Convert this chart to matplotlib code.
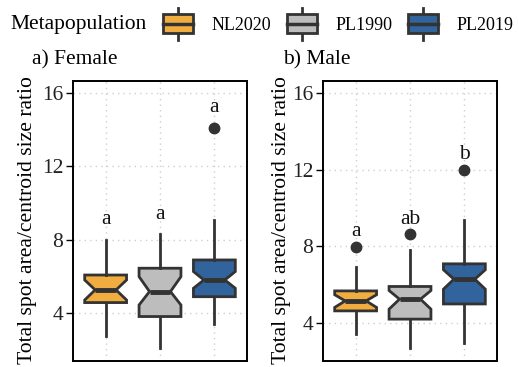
import matplotlib
matplotlib.use("Agg")
import matplotlib.pyplot as plt
from matplotlib.patches import Rectangle, Patch
from matplotlib.lines import Line2D
from matplotlib.legend_handler import HandlerBase

plt.rcParams['font.family'] = ['Liberation Serif', 'DejaVu Serif']

groups = ['NL2020', 'PL1990', 'PL2019']
colors = ['#F2AD40', '#BDBDBD', '#31639C']
edge = '#333333'

# box summaries: whislo, q1, med, q3, whishi, notch lo, notch hi
female_stats = [
    [2.76, 4.58, 5.27, 6.08, 8.00, 4.72, 5.81],
    [2.10, 3.82, 5.18, 6.45, 8.30, 4.45, 5.99],
    [3.40, 4.90, 5.81, 6.90, 9.08, 5.36, 6.27],
]
female_out = [[], [], [14.1]]
female_letters = ['a', 'a', 'a']
female_letter_y = [8.86, 9.12, 14.94]

male_stats = [
    [3.44, 4.64, 5.16, 5.68, 6.90, 4.82, 5.48],
    [2.70, 4.21, 5.25, 5.91, 7.79, 4.73, 5.70],
    [2.96, 5.00, 6.29, 7.09, 9.39, 5.77, 6.78],
]
male_out = [[7.96], [8.64], [12.0]]
male_letters = ['a', 'ab', 'b']
male_letter_y = [8.52, 9.18, 12.57]


def to_bxp(stats, outs):
    keys = ['whislo', 'q1', 'med', 'q3', 'whishi', 'cilo', 'cihi']
    res = []
    for s, o in zip(stats, outs):
        d = dict(zip(keys, s))
        d['fliers'] = o
        res.append(d)
    return res


def panel(ax, stats, outs, letters, letter_y, ylim, label_x):
    b = ax.bxp(to_bxp(stats, outs), positions=[1, 2, 3], widths=0.77,
               shownotches=True, showcaps=False, patch_artist=True,
               boxprops=dict(edgecolor=edge, linewidth=2),
               whiskerprops=dict(color=edge, linewidth=2),
               medianprops=dict(color=edge, linewidth=3.5),
               flierprops=dict(marker='o', markerfacecolor=edge,
                               markeredgecolor=edge, markersize=7.5))
    for patch, c in zip(b['boxes'], colors):
        patch.set_facecolor(c)
    for i, (t, y) in enumerate(zip(letters, letter_y)):
        ax.text(i + 1, y, t, ha='center', va='baseline', fontsize=15.5,
                color='#111111')
    ax.set_xlim(0.4, 3.6)
    ax.set_ylim(*ylim)
    ax.set_yticks([4, 8, 12, 16])
    ax.set_xticks([1, 2, 3])
    ax.grid(True, color='#cfcfcf', linestyle=(0, (1, 3)), linewidth=1)
    ax.set_axisbelow(True)
    ax.tick_params(axis='x', length=0, labelbottom=False)
    ax.tick_params(axis='y', length=5, width=1, labelsize=15.5,
                   labelcolor='#222222', pad=2)
    for sp in ax.spines.values():
        sp.set_linewidth(1.4)
        sp.set_color('black')
    ax.set_ylabel('Total spot area/centroid size ratio', fontsize=15.6)
    ax.yaxis.set_label_coords(label_x, 0.505)


class BoxKey(HandlerBase):
    def create_artists(self, legend, orig_handle, xdescent, ydescent,
                       width, height, fontsize, trans):
        cy = height / 2 - ydescent
        bh = fontsize * 1.05
        x0 = -xdescent
        cx = x0 + width / 2
        stub = fontsize * 0.38
        w1 = Line2D([cx, cx], [cy + bh / 2, cy + bh / 2 + stub], color=edge,
                    lw=2, transform=trans)
        w2 = Line2D([cx, cx], [cy - bh / 2, cy - bh / 2 - stub], color=edge,
                    lw=2, transform=trans)
        r = Rectangle((x0, cy - bh / 2), width, bh,
                      facecolor=orig_handle.get_facecolor(), edgecolor=edge,
                      lw=2, transform=trans)
        m = Line2D([x0, x0 + width], [cy, cy], color=edge, lw=2.5,
                   transform=trans)
        return [w1, w2, r, m]


fig = plt.figure(figsize=(5.19, 3.67), dpi=100)
ax1 = fig.add_axes([73 / 519, 6 / 367, 174 / 519, 280 / 367])
ax2 = fig.add_axes([323 / 519, 6 / 367, 174 / 519, 280 / 367])

panel(ax1, female_stats, female_out, female_letters, female_letter_y,
      (1.4, 16.64), -0.205)
panel(ax2, male_stats, male_out, male_letters, male_letter_y, (2.03, 16.61),
      -0.185)

fig.text(32 / 519, 1 - 60 / 367, 'a) Female', fontsize=15.5, va='center',
         ha='left')
fig.text(283 / 519, 1 - 60 / 367, 'b) Male', fontsize=15.5, va='center',
         ha='left')

fig.text(10 / 519, 1 - 25 / 367, 'Metapopulation', fontsize=15.5,
         va='center', ha='left')
handles = [Patch(facecolor=c) for c in colors]
fig.legend(handles, groups, loc='center left',
           bbox_to_anchor=(163 / 519, 1 - 25 / 367), ncol=3, frameon=False,
           fontsize=13, handlelength=1.65, handleheight=1.0,
           handletextpad=1.05, columnspacing=0.85, borderpad=0,
           borderaxespad=0, handler_map={Patch: BoxKey()})

fig.savefig('out.png', dpi=100)
